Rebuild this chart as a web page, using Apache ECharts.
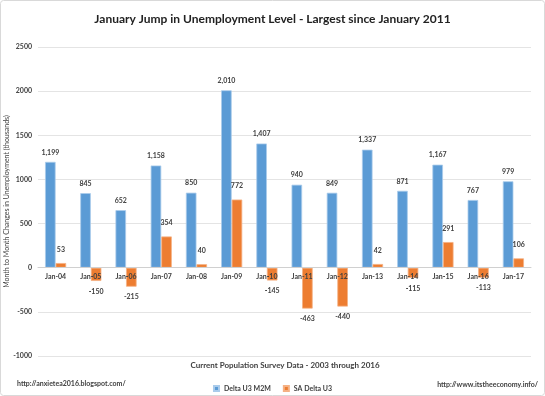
<!DOCTYPE html>
<html>
<head>
<meta charset="utf-8">
<script src="https://cdn.jsdelivr.net/npm/echarts@6/dist/echarts.min.js"></script>
<style>
html,body{margin:0;padding:0;background:#fff;}
#c{width:545px;height:396px;}
</style>
</head>
<body>
<div id="c"></div>
<script>
const categories = ['Jan-04','Jan-05','Jan-06','Jan-07','Jan-08','Jan-09','Jan-10','Jan-11','Jan-12','Jan-13','Jan-14','Jan-15','Jan-16','Jan-17'];
const deltaU3M2M = [1199, 845, 652, 1158, 850, 2010, 1407, 940, 849, 1337, 871, 1167, 767, 979];
const saDeltaU3 = [53, -150, -215, 354, 40, 772, -145, -463, -440, 42, -115, 291, -113, 106];
const yTicks = {min: -1000, max: 2500, interval: 500};

const FONT = 'Lato, "Open Sans", sans-serif';
const GRID = {left: 38, right: 14, top: 47, bottom: 40};
const chart = echarts.init(document.getElementById('c'), null, {renderer: 'canvas'});
const option = {
  backgroundColor: '#ffffff',
  animation: false,
  title: {
    text: 'January Jump in Unemployment Level - Largest since January 2011',
    left: 'center', top: 8,
    textStyle: {fontFamily: FONT, fontSize: 12, fontWeight: 'bold', color: '#222'}
  },
  legend: {
    top: 380, left: 'center',
    itemWidth: 5, itemHeight: 5, itemGap: 12,
    icon: 'rect',
    textStyle: {fontFamily: FONT, fontSize: 7, color: '#404040', fontWeight: 'bold'},
    data: ['Delta U3 M2M', 'SA Delta U3']
  },
  grid: Object.assign({containLabel: false, outerBoundsMode: 'none'}, GRID),
  xAxis: {
    type: 'category',
    data: categories,
    position: 'bottom',
    offset: 0,
    z: 10,
    axisLine: {onZero: false, lineStyle: {color: '#d0d0d0', width: 1}},
    axisTick: {show: false},
    axisLabel: {fontFamily: FONT, fontSize: 7, fontWeight: 'bold', color: '#404040', margin: 6,
                hideOverlap: false}
  },
  yAxis: {
    type: 'value',
    min: yTicks.min, max: yTicks.max, interval: yTicks.interval,
    name: 'Month to Month Changes in Unemployment (thousands)',
    nameLocation: 'middle',
    nameGap: 28,
    nameMoveOverlap: false,
    nameTextStyle: {fontFamily: FONT, fontSize: 7, color: '#404040'},
    axisLine: {show: false},
    axisTick: {show: false},
    axisLabel: {fontFamily: FONT, fontSize: 7, fontWeight: 'bold', color: '#404040', margin: 6,
                formatter: v => String(v)},
    splitLine: {lineStyle: {color: '#e4e4e4', width: 1}}
  },
  series: [
    {
      name: 'Delta U3 M2M',
      type: 'bar',
      data: deltaU3M2M,
      barGap: '0%',
      barCategoryGap: '40%',
      itemStyle: {color: '#5B9BD5', borderColor: '#a9cbeb', borderWidth: 0.8},
      label: {
        show: true, position: 'top', distance: 6,
        fontFamily: FONT, fontSize: 7, fontWeight: 'bold', color: '#404040',
        formatter: p => p.value.toLocaleString('en-US')
      }
    },
    {
      name: 'SA Delta U3',
      type: 'bar',
      data: saDeltaU3.map(v => ({
        value: v,
        label: {position: v < 0 ? 'bottom' : 'top', distance: v < 0 ? 7 : 10}
      })),
      itemStyle: {color: '#ED7D31', borderColor: '#f5b184', borderWidth: 0.8},
      label: {
        show: true,
        fontFamily: FONT, fontSize: 7, fontWeight: 'bold', color: '#404040',
        formatter: p => String(p.value)
      }
    }
  ],
  graphic: [
    {type: 'rect', shape: {x: 0.5, y: 0.5, width: 544, height: 395, r: 3},
     style: {fill: 'none', stroke: '#d9d9d9', lineWidth: 1}, silent: true, z: -1},
    {type: 'text', x: 285, y: 365,
     style: {text: 'Current Population Survey Data - 2003 through 2016', font: 'bold 8px ' + FONT,
             fill: '#404040', align: 'center', verticalAlign: 'middle'}},
    {type: 'text', x: 17, y: 384,
     style: {text: 'http://anxietea2016.blogspot.com/', font: 'bold 7px ' + FONT, fill: '#404040',
             align: 'left', verticalAlign: 'middle'}},
    {type: 'text', x: 538, y: 385,
     style: {text: 'http://www.itstheeconomy.info/', font: 'bold 7px ' + FONT, fill: '#404040',
             align: 'right', verticalAlign: 'middle'}}
  ]
};
chart.setOption(option);
// move the category axis onto the value axis' zero line, using the library's scale
const zeroY = chart.convertToPixel({yAxisIndex: 0}, 0);
const bottomY = chart.getHeight() - GRID.bottom;
chart.setOption({xAxis: {offset: zeroY - bottomY}});
</script>
</body>
</html>
